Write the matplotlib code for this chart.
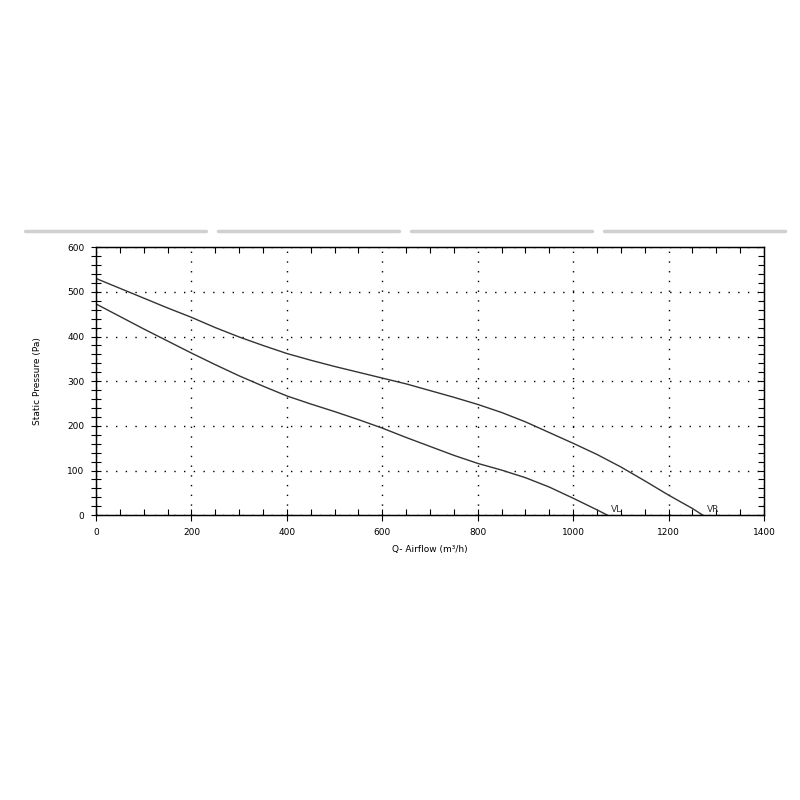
import matplotlib
matplotlib.use("Agg")
import matplotlib.pyplot as plt
from matplotlib.lines import Line2D
from matplotlib.ticker import MultipleLocator
import numpy as np

# Fan curves (airflow m3/h, static pressure Pa)
vl_flow = [0, 50, 100, 150, 200, 250, 300, 350, 400, 450, 500, 550, 600, 650,
           700, 750, 800, 850, 900, 950, 1000, 1050, 1072]
vl_pressure = [473, 445, 417, 390, 363, 337, 312, 289, 267, 249, 232, 214, 195, 174,
               154, 134, 116, 101, 84, 63, 38, 12, 0]
vr_flow = [0, 50, 100, 150, 200, 250, 300, 350, 400, 450, 500, 550, 600, 650,
           700, 750, 800, 850, 900, 950, 1000, 1050, 1100, 1150, 1200, 1250, 1272]
vr_pressure = [530, 508, 486, 464, 443, 420, 399, 380, 362, 347, 333, 320, 307, 294,
               279, 264, 248, 230, 209, 185, 161, 136, 108, 77, 45, 15, 0]
curve_labels = ["VL", "VR"]

fig = plt.figure(figsize=(8, 8), dpi=100)
ax = fig.add_axes([0.12, 0.356, 0.835, 0.335])

# grey tab strips above the chart
for x0, x1 in [(25, 206), (218, 399), (411, 592), (604, 785)]:
    fig.add_artist(Line2D([x0 / 800, x1 / 800], [1 - 231 / 800] * 2,
                          color="#d0d0d0", lw=2.5, solid_capstyle="round"))

ax.plot(vl_flow, vl_pressure, color="#333333", lw=1)
ax.plot(vr_flow, vr_pressure, color="#333333", lw=1)
ax.text(vl_flow[-1] + 8, 2, curve_labels[0], fontsize=6.5, color="#333333", va="bottom")
ax.text(vr_flow[-1] + 8, 2, curve_labels[1], fontsize=6.5, color="#333333", va="bottom")

ax.set_xlim(0, 1400)
ax.set_ylim(0, 600)
ax.xaxis.set_major_locator(MultipleLocator(200))
ax.xaxis.set_minor_locator(MultipleLocator(50))
ax.yaxis.set_major_locator(MultipleLocator(100))
ax.yaxis.set_minor_locator(MultipleLocator(20))
ax.tick_params(which="both", top=True, right=True, direction="in",
               labelsize=6.5, width=0.8)
ax.tick_params(which="major", length=5, pad=5)
ax.tick_params(which="minor", length=4)
ax.tick_params(axis="y", which="both", left=True, right=False,
               direction="inout", length=7)
ax.tick_params(axis="x", which="major", bottom=True, direction="inout", length=8)
ax.tick_params(axis="x", which="major", top=False)

# right spine ticks pointing inward
ax2 = ax.twinx()
ax2.set_ylim(ax.get_ylim())
ax2.yaxis.set_major_locator(MultipleLocator(100))
ax2.yaxis.set_minor_locator(MultipleLocator(20))
ax2.tick_params(which="both", direction="in", length=4, width=0.8, labelright=False)

ax.grid(True, which="major", color="black", linestyle=(0, (1, 6)), lw=1)
for s in list(ax.spines.values()) + list(ax2.spines.values()):
    s.set_linewidth(0.9)

ax.set_xlabel("Q- Airflow (m³/h)", fontsize=6.5, labelpad=6)
ax.set_ylabel("Static Pressure (Pa)", fontsize=6.5, labelpad=18)

fig.savefig("out.png", dpi=100)
